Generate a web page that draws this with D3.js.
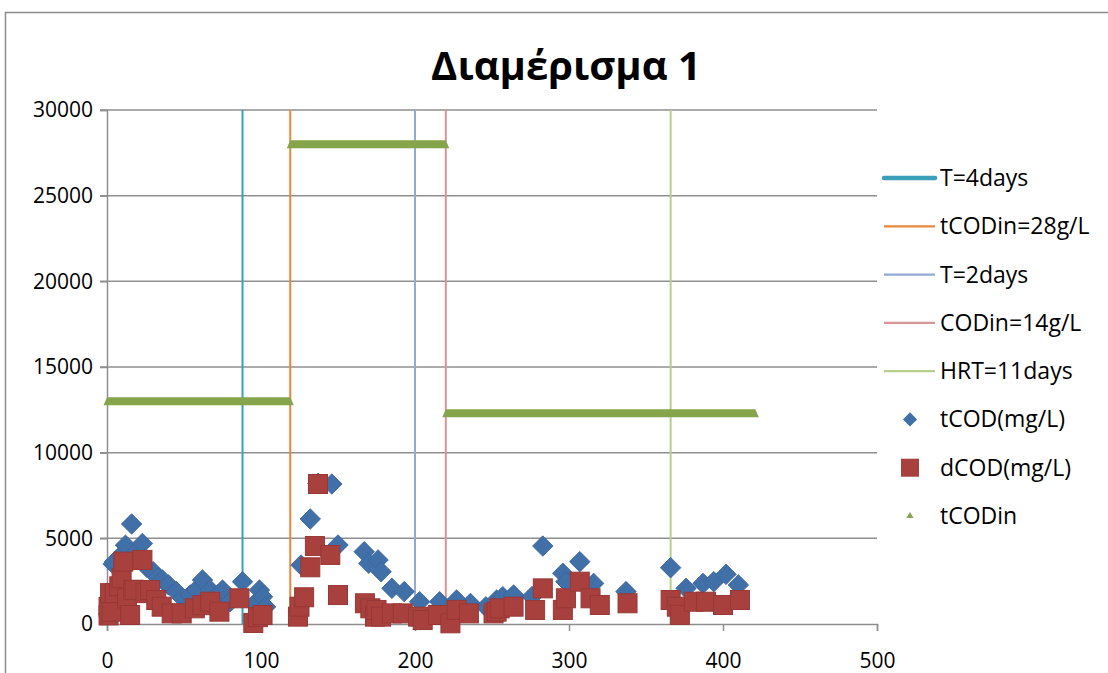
<!DOCTYPE html>
<html>
<head>
	<meta charset="utf-8">
	<script src="https://cdnjs.cloudflare.com/ajax/libs/d3/7.8.5/d3.min.js"></script>
	<style>
		body { margin: 0; background: #fff; }
		text { font-family: "Open Sans", "Liberation Sans", sans-serif; }
	</style>
</head>
<body>
	<svg width="1108" height="673"></svg>
	<script>
		// tCOD (diamonds): day, mg/L
		const tcodDays = [1, 2, 3, 4, 5, 9, 12, 16, 19, 23, 26, 30, 33, 36, 40, 45, 49, 54, 58, 62, 67, 72, 75, 80, 88, 96, 99, 101, 103,
			126, 132, 137, 146, 150, 167, 170, 176, 178, 185, 193, 203, 216, 227, 236, 246, 253, 257, 264, 276,
			283, 296, 298, 307, 316, 337, 366, 376, 387, 394, 402, 410];
		const tcodValues = [600, 1000, 800, 3500, 3640, 4000, 4600, 5840, 4200, 4700, 3300, 3050, 2700, 2570, 2280, 1890, 1500, 1690, 2000, 2570, 1980, 1700, 1980, 1300, 2470, 1200, 1980, 1590, 1000,
			3440, 6130, 8210, 8170, 4610, 4220, 3540, 3740, 3050, 2080, 1890, 1300, 1300, 1400, 1200, 1000, 1400, 1590, 1690, 1600,
			4550, 2960, 2470, 3640, 2370, 1890, 3290, 2080, 2370, 2470, 2900, 2280];

		// dCOD (squares): day, mg/L
		const dcodDays = [1, 1, 2, 3, 5, 8, 9.5, 10.6, 13, 15, 17, 18, 23, 25, 28, 32, 35.5, 42, 48.5, 57, 62, 67, 73, 86, 95, 98, 101,
			124, 125, 128, 132, 135, 137, 145, 150, 167.5, 171, 174, 175, 178, 185, 192, 202, 205, 215, 223, 227, 235,
			251, 253, 255, 264, 278, 283, 296, 298, 307, 314, 320, 338, 366, 370, 372, 381, 389, 400, 411];
		const dcodValues = [1000, 500, 1800, 720, 1800, 2200, 2670, 3640, 1500, 525, 2000, 1980, 3740, 1800, 1980, 1400, 1010, 620, 620, 915, 1100, 1300, 720, 1500, 60, 400, 525,
			430, 1010, 1560, 3310, 4550, 8170, 4030, 1690, 1210, 915, 430, 820, 430, 620, 620, 430, 230, 525, 40, 820, 620,
			620, 720, 915, 1010, 820, 2080, 820, 1500, 2470, 1500, 1110, 1210, 1400, 1010, 530, 1300, 1300, 1110, 1400];

		// tCODin (inflow, mg/L) segments
		const tcodinStart = [0, 119, 220];
		const tcodinEnd = [119, 220, 421];
		const tcodinValue = [13000, 28000, 12300];

		// vertical event lines
		const eventNames = ["T=4days", "tCODin=28g/L", "T=2days", "CODin=14g/L", "HRT=11days"];
		const eventDays = [88, 119, 200, 220, 366];

		const xTicks = [0, 100, 200, 300, 400, 500];
		const yTicks = [0, 5000, 10000, 15000, 20000, 25000, 30000];

		const eventColors = ["#3a9fb8", "#e8883c", "#91aad6", "#d99594", "#b6cf8a"];
		const blue = "#4170a8", red = "#a8403e", green = "#86a44a";

		const svg = d3.select("svg");

		// chart frame
		svg.append("path")
			.attr("d", "M5.5,673 V12.5 H1108")
			.attr("fill", "none")
			.attr("stroke", "#8c8c8c")
			.attr("stroke-width", 1.5);

		const x = d3.scaleLinear().domain([0, 500]).range([107, 877]);
		const y = d3.scaleLinear().domain([0, 30000]).range([624, 110]);

		// title
		svg.append("text")
			.attr("x", 566)
			.attr("y", 80)
			.attr("text-anchor", "middle")
			.attr("font-size", 40)
			.attr("font-weight", "bold")
			.text("Διαμέρισμα 1");

		// gridlines
		svg.append("g")
			.selectAll("line")
			.data(yTicks.slice(1))
			.join("line")
			.attr("x1", x(0) - 7)
			.attr("x2", x(500))
			.attr("y1", d => y(d))
			.attr("y2", d => y(d))
			.attr("stroke", "#8f8f8f")
			.attr("stroke-width", 1.5);

		// y axis
		const yAxis = svg.append("g")
			.attr("transform", "translate(" + x(0) + ",0)")
			.call(d3.axisLeft(y).tickValues(yTicks).tickFormat(d3.format("d")).tickSize(7).tickPadding(7));
		yAxis.select(".domain").attr("stroke", "#8f8f8f").attr("stroke-width", 1.5);
		yAxis.selectAll(".tick line").attr("stroke", "#8f8f8f").attr("stroke-width", 1.5);
		yAxis.selectAll("text").attr("font-size", 21).attr("fill", "#000")
			.attr("font-family", "Open Sans, sans-serif");

		// x axis
		const xAxis = svg.append("g")
			.attr("transform", "translate(0," + y(0) + ")")
			.call(d3.axisBottom(x).tickValues(xTicks).tickSize(7).tickPadding(22));
		xAxis.select(".domain").attr("stroke", "#8f8f8f").attr("stroke-width", 1.5);
		xAxis.selectAll(".tick line").attr("stroke", "#8f8f8f").attr("stroke-width", 1.5);
		xAxis.selectAll("text").attr("font-size", 21).attr("fill", "#000")
			.attr("font-family", "Open Sans, sans-serif");

		// event lines
		svg.append("g")
			.selectAll("line")
			.data(eventDays)
			.join("line")
			.attr("x1", d => x(d))
			.attr("x2", d => x(d))
			.attr("y1", y(30000))
			.attr("y2", y(0))
			.attr("stroke", (d, i) => eventColors[i])
			.attr("stroke-width", 2);

		// tCODin bands (dense triangle markers)
		svg.append("g")
			.selectAll("path")
			.data(tcodinValue)
			.join("path")
			.attr("d", (v, i) => {
				const x0 = x(tcodinStart[i]), x1 = x(tcodinEnd[i]), yy = y(v);
				return "M" + (x0 - 3.5) + "," + (yy + 4) + "L" + x0 + "," + (yy - 4) +
					"L" + x1 + "," + (yy - 4) + "L" + (x1 + 3.5) + "," + (yy + 4) + "Z";
			})
			.attr("fill", green);

		// tCOD diamonds
		const diamond = d3.symbol().type(d3.symbolSquare).size(210);
		svg.append("g")
			.selectAll("path")
			.data(tcodValues)
			.join("path")
			.attr("d", diamond)
			.attr("transform", (v, i) => "translate(" + x(tcodDays[i]) + "," + y(v) + ") rotate(45)")
			.attr("fill", blue)
			.attr("stroke", "#3a659a")
			.attr("stroke-width", 0.8);

		// dCOD squares
		svg.append("g")
			.selectAll("rect")
			.data(dcodValues)
			.join("rect")
			.attr("x", (v, i) => x(dcodDays[i]) - 9.5)
			.attr("y", v => y(v) - 9.5)
			.attr("width", 19)
			.attr("height", 19)
			.attr("fill", red)
			.attr("stroke", "#983836")
			.attr("stroke-width", 1);

		// legend
		const legend = svg.append("g").attr("font-size", 23);
		const rowY = d3.scalePoint().domain(d3.range(8)).range([178, 516]);
		eventNames.forEach((name, i) => {
			legend.append("line")
				.attr("x1", 884).attr("x2", 935)
				.attr("y1", rowY(i)).attr("y2", rowY(i))
				.attr("stroke", eventColors[i])
				.attr("stroke-width", i === 0 ? 4.5 : 2.2)
				.attr("stroke-linecap", i === 0 ? "round" : "butt");
			legend.append("text")
				.attr("x", 940).attr("y", rowY(i)).attr("dy", "0.35em")
				.text(name);
		});
		legend.append("path")
			.attr("d", d3.symbol().type(d3.symbolSquare).size(100))
			.attr("transform", "translate(910," + rowY(5) + ") rotate(45)")
			.attr("fill", blue);
		legend.append("rect")
			.attr("x", 901).attr("y", rowY(6) - 9).attr("width", 18).attr("height", 18)
			.attr("fill", red);
		legend.append("path")
			.attr("d", d3.symbol().type(d3.symbolTriangle).size(22))
			.attr("transform", "translate(910," + rowY(7) + ")")
			.attr("fill", green);
		["tCOD(mg/L)", "dCOD(mg/L)", "tCODin"].forEach((name, k) => {
			legend.append("text")
				.attr("x", 940).attr("y", rowY(5 + k)).attr("dy", "0.35em")
				.text(name);
		});
	</script>
</body>
</html>
